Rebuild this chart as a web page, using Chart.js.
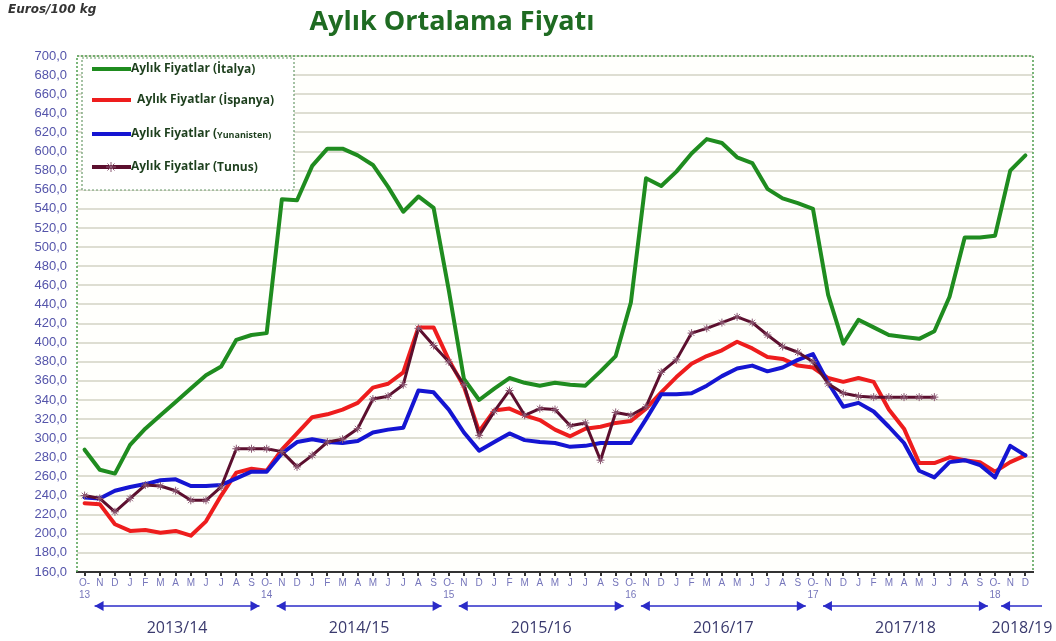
<!DOCTYPE html>
<html>
<head>
<meta charset="utf-8">
<script src="https://cdn.jsdelivr.net/npm/chart.js@4.4.1/dist/chart.umd.min.js"></script>
<style>
  html, body { margin: 0; padding: 0; background: #ffffff; }
  #wrap { position: relative; width: 1056px; height: 641px; }
</style>
</head>
<body>
<div id="wrap"><canvas id="priceChart" width="1056" height="641"></canvas></div>
<script>
// Aylık Ortalama Fiyatı - Euros/100 kg, Ekim 2013 - Aralık 2018
const monthLetters = ['O', 'N', 'D', 'J', 'F', 'M', 'A', 'M', 'J', 'J', 'A', 'S'];
const yearMarks = ['13', '14', '15', '16', '17', '18'];
const seasons = ['2013/14', '2014/15', '2015/16', '2016/17', '2017/18', '2018/19'];

const italya = [288, 267, 263, 293, 310, 324, 338, 352, 366, 375, 403, 408,
                410, 550, 549, 585, 603, 603, 596, 586, 563, 537, 553, 541,
                455, 362, 340, 352, 363, 358, 355, 358, 356, 355, 370, 386,
                442, 572, 564, 579, 598, 613, 609, 594, 588, 561, 551, 546,
                540, 450, 399, 424, 416, 408, 406, 404, 412, 448, 510, 510,
                512, 580, 596];
const ispanya = [232, 231, 210, 203, 204, 201, 203, 198, 213, 240, 264, 268,
                 266, 288, 305, 322, 325, 330, 337, 353, 357, 369, 416, 416,
                 382, 354, 307, 329, 331, 324, 319, 309, 302, 310, 312, 316,
                 318, 331, 348, 364, 378, 386, 392, 401, 394, 385, 383, 376,
                 374, 363, 359, 363, 359, 330, 310, 274, 274, 280, 277, 275,
                 265, 275, 282];
const yunanistan = [238, 237, 245, 249, 252, 256, 257, 250, 250, 251, 258, 265,
                    265, 284, 296, 299, 296, 295, 297, 306, 309, 311, 350, 348,
                    330, 306, 287, 296, 305, 298, 296, 295, 291, 292, 295, 295,
                    295, 320, 346, 346, 347, 355, 365, 373, 376, 370, 374, 382,
                    388, 358, 333, 337, 328, 312, 295, 266, 259, 275, 277, 272,
                    259, 292, 282];
const tunus = [240, 237, 223, 237, 251, 250, 245, 235, 235, 249, 289, 289,
               289, 286, 270, 282, 296, 299, 310, 341, 344, 356, 415, 397,
               380, 356, 303, 328, 350, 324, 331, 330, 313, 316, 277, 327,
               324, 333, 369, 382, 410, 415, 421, 427, 421, 408, 396, 390,
               380, 357, 347, 344, 343, 343, 343, 343, 343, null, null, null,
               null, null, null];

// month labels, October gets the year underneath ("O-" / "13")
const labels = [];
for (let i = 0; i < italya.length; i++) {
    const m = monthLetters[i % 12];
    if (i % 12 === 0) labels.push([m + '-', yearMarks[i / 12]]);
    else labels.push(m);
}

const decorPlugin = {
    id: 'decor',
    beforeDraw(chart) {
        const a = chart.chartArea;
        chart.ctx.save();
        chart.ctx.fillStyle = '#fffffc';
        chart.ctx.fillRect(a.left, a.top, a.right - a.left, a.bottom - a.top);
        chart.ctx.restore();
    },
    afterDraw(chart) {
        const ctx = chart.ctx;
        const a = chart.chartArea;
        const xs = chart.scales.x;
        ctx.save();

        // dotted frame left / top / right
        ctx.setLineDash([2, 2]);
        ctx.lineWidth = 1.5;
        ctx.strokeStyle = '#4f9e4f';
        ctx.beginPath();
        ctx.moveTo(a.left, a.bottom);
        ctx.lineTo(a.left, a.top);
        ctx.lineTo(a.right, a.top);
        ctx.lineTo(a.right, a.bottom);
        ctx.stroke();

        // legend box
        const lx = 82, ly = 58, lw = 212, lh = 132;
        ctx.setLineDash([]);
        ctx.fillStyle = '#ffffff';
        ctx.fillRect(lx, ly, lw, lh);
        ctx.setLineDash([2, 2]);
        ctx.strokeStyle = '#6a9a6a';
        ctx.lineWidth = 1.2;
        ctx.strokeRect(lx, ly, lw, lh);
        ctx.setLineDash([]);

        const rowsY = [69, 100, 134, 167];
        chart.data.datasets.forEach((ds, i) => {
            const y = rowsY[i];
            ctx.strokeStyle = ds.borderColor;
            ctx.lineWidth = 4;
            ctx.beginPath();
            ctx.moveTo(92, y);
            ctx.lineTo(131, y);
            ctx.stroke();
            if (ds.pointStyle === 'star') {
                ctx.strokeStyle = ds.pointBorderColor;
                ctx.lineWidth = 1;
                const cx = 111, r = 5;
                for (let k = 0; k < 4; k++) {
                    const ang = k * Math.PI / 4;
                    ctx.beginPath();
                    ctx.moveTo(cx - r * Math.cos(ang), y - r * Math.sin(ang));
                    ctx.lineTo(cx + r * Math.cos(ang), y + r * Math.sin(ang));
                    ctx.stroke();
                }
            }
            ctx.fillStyle = '#1d3f1d';
            ctx.textBaseline = 'middle';
            ctx.textAlign = 'left';
            const parts = ds.label.split('(');
            let tx = ds.label.indexOf('İspanya') > -1 ? 134 : 131;
            ctx.font = 'bold 12px "Open Sans"';
            const head = parts[0] + '(';
            ctx.fillText(head, tx, y);
            tx += ctx.measureText(head).width;
            if (ds.label.indexOf('Yunanisten') > -1) ctx.font = 'bold 9px "Open Sans"';
            ctx.fillText(parts[1], tx, y + 1);
        });

        // season arrows
        const ay = 606;
        ctx.strokeStyle = '#2b2bc8';
        ctx.lineWidth = 1.5;
        const head = (x, dir) => {
            ctx.beginPath();
            ctx.moveTo(x, ay);
            ctx.lineTo(x - dir * 9, ay - 5);
            ctx.lineTo(x - dir * 9, ay + 5);
            ctx.closePath();
            ctx.fill();
        };
        seasons.forEach((s, i) => {
            let x1 = xs.getPixelForValue(i * 12) + 10;
            let x2 = xs.getPixelForValue(Math.min(i * 12 + 11, labels.length - 1)) + 8;
            const last = i * 12 + 11 > labels.length - 1;
            if (last) { x1 = xs.getPixelForValue(i * 12) + 6; x2 = 1042; }
            ctx.fillStyle = '#2b2bc8';
            ctx.beginPath();
            ctx.moveTo(x1, ay);
            ctx.lineTo(x2, ay);
            ctx.stroke();
            head(x1, -1);
            if (!last) head(x2, 1);
            ctx.fillStyle = '#3a3a6e';
            ctx.font = '16px "Open Sans"';
            ctx.textAlign = 'center';
            ctx.textBaseline = 'middle';
            ctx.fillText(s, last ? 1022 : (x1 + x2) / 2, 628);
        });

        // title and unit
        ctx.fillStyle = '#1f6b22';
        ctx.font = 'bold 27px "Open Sans"';
        ctx.textAlign = 'center';
        ctx.textBaseline = 'middle';
        ctx.fillText('Aylık Ortalama Fiyatı', 452, 22);
        ctx.fillStyle = '#333333';
        ctx.font = 'italic bold 12px "DejaVu Sans"';
        ctx.textAlign = 'left';
        ctx.fillText('Euros/100 kg', 8, 10);
        ctx.restore();
    }
};

new Chart(document.getElementById('priceChart'), {
    type: 'line',
    data: {
        labels: labels,
        datasets: [
            { label: 'Aylık Fiyatlar (İtalya)', data: italya, borderColor: '#1f8c1f', borderWidth: 4, pointRadius: 0, order: 1 },
            { label: ' Aylık Fiyatlar (İspanya)', data: ispanya, borderColor: '#ee1d1d', borderWidth: 4, pointRadius: 0, order: 3 },
            { label: 'Aylık Fiyatlar (Yunanisten)', data: yunanistan, borderColor: '#1515d2', borderWidth: 4, pointRadius: 0, order: 2 },
            { label: 'Aylık Fiyatlar (Tunus)', data: tunus, borderColor: '#5c0f2e', borderWidth: 3,
              pointStyle: 'star', pointRadius: 4, pointBorderColor: '#8c5a74', pointBorderWidth: 1, order: 0 }
        ]
    },
    options: {
        responsive: false,
        animation: false,
        devicePixelRatio: 1,
        spanGaps: false,
        layout: { padding: { top: 56, right: 23, left: 0, bottom: 0 } },
        elements: { line: { tension: 0, borderJoinStyle: 'round', borderCapStyle: 'round' } },
        scales: {
            x: {
                type: 'category',
                offset: true,
                grid: { offset: false, drawOnChartArea: false, drawTicks: true, tickLength: 4, color: '#333333', lineWidth: 2 },
                border: { color: '#333333', width: 2 },
                ticks: { autoSkip: false, maxRotation: 0, padding: 1, color: '#7676bb',
                         font: { family: 'Liberation Sans', size: 10 } },
                afterFit: s => { s.height = 69; }
            },
            y: {
                min: 160,
                max: 700,
                grid: { color: '#deded2', lineWidth: 2, drawTicks: false },
                border: { display: false },
                ticks: { stepSize: 20, autoSkip: false, padding: 10, color: '#5454aa',
                         font: { family: 'Liberation Sans', size: 13, lineHeight: 1 },
                         callback: v => v.toFixed(1).replace('.', ',') },
                afterFit: s => { s.width = 77; }
            }
        },
        plugins: {
            legend: { display: false },
            tooltip: { enabled: false }
        }
    },
    plugins: [decorPlugin]
});
</script>
</body>
</html>
